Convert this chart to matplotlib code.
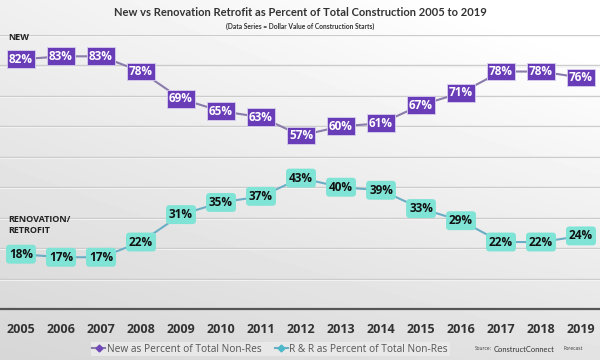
import numpy as np
import matplotlib
matplotlib.use('Agg')
import matplotlib.pyplot as plt

years = list(range(2005, 2020))
new_pct = [82, 83, 83, 78, 69, 65, 63, 57, 60, 61, 67, 71, 78, 78, 76]
rr_pct = [18, 17, 17, 22, 31, 35, 37, 43, 40, 39, 33, 29, 22, 22, 24]

PURPLE = '#6a3db8'
TEAL = '#7fe3d5'
NEW_LINE = '#8a7bab'
RR_LINE = '#6aaec6'

plt.rcParams['font.family'] = ['Open Sans', 'DejaVu Sans']

fig = plt.figure(figsize=(6, 3.6), dpi=100)

# gradient background
bg = fig.add_axes([0, 0, 1, 1], zorder=-1)
xx, yy = np.meshgrid(np.linspace(0, 1, 200), np.linspace(0, 1, 120))
shade = 0.84 + 0.10 * yy + 0.05 * xx + 0.03 * xx * yy
bg.imshow(np.clip(shade, 0, 1), cmap='gray', vmin=0, vmax=1, origin='lower',
          aspect='auto', extent=[0, 1, 0, 1], interpolation='bilinear')
bg.set_axis_off()

ax = fig.add_axes([0, 51 / 360, 1, 274 / 360])
ax.set_facecolor('none')
ax.set_xlim(2005 - 0.525, 2019 + 0.475)
ax.set_ylim(0, 90)

for g in range(10, 91, 10):
    ax.axhline(g, color='#cccccc', lw=1.0, zorder=1)
    ax.axhline(g - 0.35, color='#f6f6f6', lw=0.6, zorder=1)

for s in ['top', 'right', 'left']:
    ax.spines[s].set_visible(False)
ax.spines['bottom'].set_color('#555555')
ax.spines['bottom'].set_linewidth(1.6)
ax.set_yticks([])
ax.set_xticks(years)
ax.set_xticklabels([str(y) for y in years], fontsize=9, fontweight='bold', color='#333333')
ax.tick_params(axis='x', length=0, pad=10)

ax.plot(years, new_pct, color=NEW_LINE, lw=1.5, marker='D', ms=3.5,
        mfc='#7048b8', mec='#7048b8', zorder=2, label='New as Percent of Total Non-Res')
ax.plot(years, rr_pct, color=RR_LINE, lw=1.5, marker='D', ms=3.5,
        mfc='#4cb8c8', mec='#4cb8c8', zorder=2, label='R & R as Percent of Total Non-Res')

for x, v in zip(years, new_pct):
    ax.annotate(f'{v}%', (x, v), ha='center', va='center', fontsize=8.5,
                fontweight='bold', color='white', zorder=4,
                bbox=dict(boxstyle='square,pad=0.2', fc=PURPLE, ec='#d8cef0', lw=0.6))
for x, v in zip(years, rr_pct):
    ax.annotate(f'{v}%', (x, v), ha='center', va='center', fontsize=8.5,
                fontweight='bold', color='#111111', zorder=4,
                bbox=dict(boxstyle='round,pad=0.25,rounding_size=0.3', fc=TEAL, ec='none'))

fig.text(8 / 600, 1 - 38 / 360, 'NEW', fontsize=6.5, fontweight='bold',
         color='#222222', va='center')
fig.text(8 / 600, 1 - 225 / 360, 'RENOVATION/\nRETROFIT', fontsize=6.5,
         fontweight='bold', color='#222222', va='center', linespacing=1.4)

fig.text(0.5, 1 - 13 / 360,
         'New vs Renovation Retrofit as Percent of Total Construction 2005 to 2019',
         ha='center', va='center', fontsize=8, fontweight='bold', color='#333333',
         family=['Lato', 'DejaVu Sans'])
fig.text(0.5, 1 - 26 / 360, '(Data Series = Dollar Value of Construction Starts)',
         ha='center', va='center', fontsize=4.8, fontweight='bold', color='#333333',
         family=['Lato', 'DejaVu Sans'])

leg = fig.legend(loc='center', bbox_to_anchor=(270 / 600, 1 - 349 / 360), ncol=2,
                 fontsize=7.3, frameon=True, fancybox=False, handlelength=1.3,
                 handletextpad=0.15, columnspacing=1.3, borderpad=0.15)
leg.get_frame().set_facecolor('#ececec')
leg.get_frame().set_edgecolor('none')
for t in leg.get_texts():
    t.set_color('#555555')

fig.text(475 / 600, 1 - 349 / 360, 'Source:', fontsize=3.5, color='#333333', va='center')
fig.text(494 / 600, 1 - 349 / 360, 'ConstructConnect', fontsize=5.4, color='#333333', va='center',
         family=['Lato', 'DejaVu Sans'])
fig.text(563 / 600, 1 - 349 / 360, 'Forecast', fontsize=3.5, color='#333333', va='center')

fig.savefig('out.png', dpi=100)
